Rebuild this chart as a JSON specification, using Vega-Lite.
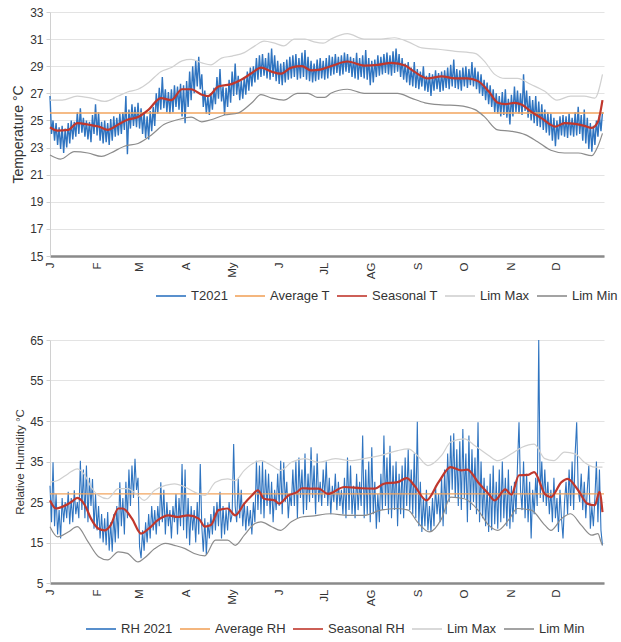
{
"$schema":"https://vega.github.io/schema/vega-lite/v6.json",
"padding":{"left":11,"top":6,"right":0,"bottom":0},
"bounds":"flush",
"spacing":84,
"config":{"font":"Liberation Sans","view":{"stroke":null},
"axisX":{"domainColor":"#8a8a8a","domainWidth":2.5,"ticks":false,"labelAngle":-90,"labelFontSize":11.5,"labelColor":"#333","grid":false,"labelPadding":6},
"axisY":{"domainColor":"#d0d0d0","gridColor":"#e3e3e3","tickColor":"#d0d0d0","tickSize":4,"labelPadding":3,"labelFontSize":12,"labelColor":"#333","titleFontWeight":"normal","titleColor":"#333","titlePadding":4},
"legend":{"direction":"horizontal","symbolType":"stroke","symbolSize":900,"symbolStrokeWidth":1.6,"labelFontSize":13,"labelColor":"#333","columnPadding":3,"gridAlign":"none","labelOffset":4,"padding":0}},
"resolve":{"scale":{"color":"independent","x":"independent","y":"independent"},"legend":{"color":"independent"}},
"datasets":{
"tBlue":[{"d":0,"v":26.8},{"d":1,"v":24.0},{"d":2,"v":25.0},{"d":3,"v":23.5},{"d":4,"v":24.8},{"d":5,"v":23.2},{"d":6,"v":24.5},{"d":7,"v":22.9},{"d":8,"v":24.6},{"d":9,"v":22.6},
{"d":10,"v":24.4},{"d":11,"v":23.0},{"d":12,"v":24.8},{"d":13,"v":23.3},{"d":14,"v":25.0},{"d":15,"v":23.6},{"d":16,"v":24.9},{"d":17,"v":23.8},{"d":18,"v":25.6},{"d":19,"v":24.0},
{"d":20,"v":25.9},{"d":21,"v":24.1},{"d":22,"v":25.2},{"d":23,"v":23.8},{"d":24,"v":25.0},{"d":25,"v":23.6},{"d":26,"v":24.9},{"d":27,"v":23.4},{"d":28,"v":25.4},{"d":29,"v":24.0},
{"d":30,"v":26.2},{"d":31,"v":23.9},{"d":32,"v":25.6},{"d":33,"v":23.5},{"d":34,"v":24.9},{"d":35,"v":23.3},{"d":36,"v":25.0},{"d":37,"v":23.4},{"d":38,"v":24.8},{"d":39,"v":23.2},
{"d":40,"v":25.1},{"d":41,"v":23.5},{"d":42,"v":25.3},{"d":43,"v":23.8},{"d":44,"v":25.2},{"d":45,"v":23.9},{"d":46,"v":25.5},{"d":47,"v":24.0},{"d":48,"v":25.6},{"d":49,"v":24.3},
{"d":50,"v":26.8},{"d":51,"v":22.5},{"d":52,"v":25.8},{"d":53,"v":24.4},{"d":54,"v":26.2},{"d":55,"v":24.6},{"d":56,"v":26.0},{"d":57,"v":24.5},{"d":58,"v":26.3},{"d":59,"v":24.4},
{"d":60,"v":25.9},{"d":61,"v":24.0},{"d":62,"v":25.6},{"d":63,"v":23.7},{"d":64,"v":25.3},{"d":65,"v":23.6},{"d":66,"v":25.7},{"d":67,"v":24.2},{"d":68,"v":26.0},{"d":69,"v":24.6},
{"d":70,"v":27.0},{"d":71,"v":25.5},{"d":72,"v":27.4},{"d":73,"v":25.8},{"d":74,"v":28.2},{"d":75,"v":25.9},{"d":76,"v":27.3},{"d":77,"v":25.6},{"d":78,"v":27.1},{"d":79,"v":25.5},
{"d":80,"v":27.3},{"d":81,"v":25.6},{"d":82,"v":27.6},{"d":83,"v":26.0},{"d":84,"v":27.5},{"d":85,"v":25.8},{"d":86,"v":27.7},{"d":87,"v":25.3},{"d":88,"v":27.6},{"d":89,"v":24.8},
{"d":90,"v":27.9},{"d":91,"v":26.0},{"d":92,"v":28.6},{"d":93,"v":26.5},{"d":94,"v":29.0},{"d":95,"v":27.0},{"d":96,"v":29.4},{"d":97,"v":27.5},{"d":98,"v":29.7},{"d":99,"v":27.3},
{"d":100,"v":28.4},{"d":101,"v":26.0},{"d":102,"v":27.2},{"d":103,"v":25.5},{"d":104,"v":26.8},{"d":105,"v":25.4},{"d":106,"v":27.0},{"d":107,"v":25.8},{"d":108,"v":27.4},{"d":109,"v":26.2},
{"d":110,"v":28.2},{"d":111,"v":26.6},{"d":112,"v":28.8},{"d":113,"v":26.4},{"d":114,"v":27.5},{"d":115,"v":25.4},{"d":116,"v":27.4},{"d":117,"v":26.0},{"d":118,"v":28.0},{"d":119,"v":26.3},
{"d":120,"v":28.6},{"d":121,"v":26.8},{"d":122,"v":29.2},{"d":123,"v":26.9},{"d":124,"v":28.3},{"d":125,"v":26.5},{"d":126,"v":27.9},{"d":127,"v":26.6},{"d":128,"v":28.2},{"d":129,"v":26.9},
{"d":130,"v":28.6},{"d":131,"v":27.2},{"d":132,"v":28.9},{"d":133,"v":27.5},{"d":134,"v":29.0},{"d":135,"v":27.8},{"d":136,"v":29.6},{"d":137,"v":28.0},{"d":138,"v":29.8},{"d":139,"v":28.2},
{"d":140,"v":29.9},{"d":141,"v":28.3},{"d":142,"v":29.6},{"d":143,"v":28.1},{"d":144,"v":30.0},{"d":145,"v":28.0},{"d":146,"v":30.3},{"d":147,"v":28.2},{"d":148,"v":29.8},{"d":149,"v":27.9},
{"d":150,"v":29.4},{"d":151,"v":27.7},{"d":152,"v":29.2},{"d":153,"v":27.6},{"d":154,"v":29.3},{"d":155,"v":27.8},{"d":156,"v":29.5},{"d":157,"v":28.0},{"d":158,"v":29.7},{"d":159,"v":28.1},
{"d":160,"v":29.8},{"d":161,"v":28.2},{"d":162,"v":29.9},{"d":163,"v":28.0},{"d":164,"v":29.6},{"d":165,"v":28.1},{"d":166,"v":30.0},{"d":167,"v":28.2},{"d":168,"v":30.2},{"d":169,"v":28.0},
{"d":170,"v":29.7},{"d":171,"v":27.9},{"d":172,"v":29.4},{"d":173,"v":27.8},{"d":174,"v":29.2},{"d":175,"v":27.9},{"d":176,"v":29.5},{"d":177,"v":28.0},{"d":178,"v":29.6},{"d":179,"v":28.1},
{"d":180,"v":29.4},{"d":181,"v":28.0},{"d":182,"v":29.6},{"d":183,"v":28.1},{"d":184,"v":29.8},{"d":185,"v":28.3},{"d":186,"v":29.7},{"d":187,"v":28.4},{"d":188,"v":29.9},{"d":189,"v":28.5},
{"d":190,"v":29.7},{"d":191,"v":28.3},{"d":192,"v":29.8},{"d":193,"v":28.4},{"d":194,"v":30.0},{"d":195,"v":28.6},{"d":196,"v":29.9},{"d":197,"v":28.5},{"d":198,"v":29.7},{"d":199,"v":28.2},
{"d":200,"v":29.6},{"d":201,"v":28.1},{"d":202,"v":30.0},{"d":203,"v":28.0},{"d":204,"v":29.6},{"d":205,"v":28.2},{"d":206,"v":29.8},{"d":207,"v":28.1},{"d":208,"v":30.2},{"d":209,"v":28.0},
{"d":210,"v":29.6},{"d":211,"v":27.6},{"d":212,"v":29.4},{"d":213,"v":27.8},{"d":214,"v":29.5},{"d":215,"v":28.2},{"d":216,"v":29.8},{"d":217,"v":28.3},{"d":218,"v":29.7},{"d":219,"v":28.4},
{"d":220,"v":29.9},{"d":221,"v":28.5},{"d":222,"v":30.0},{"d":223,"v":28.4},{"d":224,"v":29.8},{"d":225,"v":28.3},{"d":226,"v":30.1},{"d":227,"v":28.5},{"d":228,"v":30.3},{"d":229,"v":28.6},
{"d":230,"v":29.9},{"d":231,"v":28.2},{"d":232,"v":29.6},{"d":233,"v":28.0},{"d":234,"v":29.2},{"d":235,"v":27.8},{"d":236,"v":29.3},{"d":237,"v":27.6},{"d":238,"v":28.9},{"d":239,"v":27.5},
{"d":240,"v":29.3},{"d":241,"v":27.4},{"d":242,"v":28.8},{"d":243,"v":27.3},{"d":244,"v":28.6},{"d":245,"v":27.5},{"d":246,"v":29.0},{"d":247,"v":27.2},{"d":248,"v":28.3},{"d":249,"v":27.1},
{"d":250,"v":28.5},{"d":251,"v":26.8},{"d":252,"v":28.4},{"d":253,"v":27.2},{"d":254,"v":28.7},{"d":255,"v":27.3},{"d":256,"v":28.5},{"d":257,"v":27.1},{"d":258,"v":28.6},{"d":259,"v":27.2},
{"d":260,"v":28.7},{"d":261,"v":27.4},{"d":262,"v":28.9},{"d":263,"v":27.3},{"d":264,"v":29.1},{"d":265,"v":27.5},{"d":266,"v":29.5},{"d":267,"v":27.4},{"d":268,"v":28.8},{"d":269,"v":27.3},
{"d":270,"v":28.7},{"d":271,"v":27.2},{"d":272,"v":28.9},{"d":273,"v":27.5},{"d":274,"v":29.0},{"d":275,"v":27.4},{"d":276,"v":28.8},{"d":277,"v":27.6},{"d":278,"v":29.3},{"d":279,"v":27.5},
{"d":280,"v":28.9},{"d":281,"v":27.3},{"d":282,"v":28.6},{"d":283,"v":27.0},{"d":284,"v":28.4},{"d":285,"v":26.8},{"d":286,"v":28.0},{"d":287,"v":26.5},{"d":288,"v":27.8},{"d":289,"v":26.2},
{"d":290,"v":27.6},{"d":291,"v":26.0},{"d":292,"v":27.3},{"d":293,"v":25.6},{"d":294,"v":27.0},{"d":295,"v":25.5},{"d":296,"v":26.8},{"d":297,"v":25.3},{"d":298,"v":27.1},{"d":299,"v":25.4},
{"d":300,"v":27.3},{"d":301,"v":25.2},{"d":302,"v":26.6},{"d":303,"v":24.7},{"d":304,"v":26.9},{"d":305,"v":25.3},{"d":306,"v":27.5},{"d":307,"v":25.6},{"d":308,"v":27.2},{"d":309,"v":25.5},
{"d":310,"v":27.0},{"d":311,"v":25.4},{"d":312,"v":28.4},{"d":313,"v":25.7},{"d":314,"v":27.2},{"d":315,"v":25.2},{"d":316,"v":26.8},{"d":317,"v":25.0},{"d":318,"v":26.5},{"d":319,"v":24.8},
{"d":320,"v":26.8},{"d":321,"v":24.6},{"d":322,"v":26.4},{"d":323,"v":24.5},{"d":324,"v":26.2},{"d":325,"v":24.3},{"d":326,"v":25.8},{"d":327,"v":24.1},{"d":328,"v":25.6},{"d":329,"v":23.9},
{"d":330,"v":25.5},{"d":331,"v":23.5},{"d":332,"v":25.2},{"d":333,"v":23.1},{"d":334,"v":25.0},{"d":335,"v":23.6},{"d":336,"v":25.3},{"d":337,"v":23.9},{"d":338,"v":25.4},{"d":339,"v":23.8},
{"d":340,"v":25.3},{"d":341,"v":23.7},{"d":342,"v":25.5},{"d":343,"v":23.9},{"d":344,"v":25.2},{"d":345,"v":23.8},{"d":346,"v":25.6},{"d":347,"v":23.9},{"d":348,"v":26.0},{"d":349,"v":24.0},
{"d":350,"v":25.4},{"d":351,"v":23.5},{"d":352,"v":25.8},{"d":353,"v":23.3},{"d":354,"v":25.2},{"d":355,"v":22.9},{"d":356,"v":24.8},{"d":357,"v":22.7},{"d":358,"v":24.6},{"d":359,"v":23.2},
{"d":360,"v":25.0},{"d":361,"v":23.8},{"d":362,"v":25.4},{"d":363,"v":24.2},{"d":364,"v":25.6}],
"tSeas":[{"d":0,"v":24.5},{"d":5,"v":24.25},{"d":12,"v":24.3},{"d":18,"v":24.8},{"d":25,"v":24.7},{"d":32,"v":24.55},{"d":38,"v":24.3},{"d":45,"v":24.7},{"d":51,"v":25.05},{"d":58,"v":25.25},{"d":65,"v":25.8},{"d":73,"v":26.65},{"d":80,"v":26.5},{"d":87,"v":27.3},{"d":93,"v":27.3},{"d":100,"v":26.9},{"d":104,"v":26.8},{"d":111,"v":27.5},{"d":120,"v":27.7},{"d":126,"v":28.0},{"d":133,"v":28.5},{"d":139,"v":28.9},{"d":146,"v":28.6},{"d":152,"v":28.45},{"d":159,"v":28.9},{"d":166,"v":29.0},{"d":172,"v":28.7},{"d":178,"v":28.75},{"d":185,"v":29.0},{"d":196,"v":29.35},{"d":207,"v":29.05},{"d":216,"v":29.1},{"d":225,"v":29.25},{"d":234,"v":29.05},{"d":240,"v":28.6},{"d":249,"v":28.1},{"d":258,"v":28.25},{"d":267,"v":28.1},{"d":275,"v":28.1},{"d":282,"v":27.9},{"d":289,"v":27.15},{"d":295,"v":26.3},{"d":300,"v":26.2},{"d":306,"v":26.3},{"d":311,"v":26.15},{"d":317,"v":25.65},{"d":324,"v":25.15},{"d":333,"v":24.55},{"d":339,"v":24.8},{"d":346,"v":24.75},{"d":352,"v":24.6},{"d":357,"v":24.45},{"d":361,"v":24.9},{"d":364,"v":26.5}],
"tMax":[{"d":0,"v":26.5},{"d":8,"v":26.5},{"d":18,"v":26.8},{"d":27,"v":26.65},{"d":36,"v":26.4},{"d":45,"v":26.8},{"d":51,"v":27.1},{"d":58,"v":27.3},{"d":65,"v":27.8},{"d":73,"v":28.6},{"d":80,"v":28.9},{"d":87,"v":29.4},{"d":93,"v":29.5},{"d":100,"v":29.25},{"d":106,"v":29.1},{"d":113,"v":29.6},{"d":120,"v":29.75},{"d":128,"v":30.0},{"d":135,"v":30.5},{"d":141,"v":30.85},{"d":148,"v":30.7},{"d":154,"v":30.5},{"d":161,"v":31.0},{"d":168,"v":31.0},{"d":174,"v":30.8},{"d":180,"v":30.7},{"d":185,"v":31.0},{"d":196,"v":31.4},{"d":207,"v":31.0},{"d":218,"v":31.0},{"d":227,"v":31.1},{"d":236,"v":30.8},{"d":245,"v":30.35},{"d":256,"v":30.25},{"d":267,"v":30.1},{"d":280,"v":29.95},{"d":286,"v":29.4},{"d":293,"v":28.4},{"d":300,"v":28.1},{"d":308,"v":28.1},{"d":317,"v":27.65},{"d":326,"v":27.15},{"d":334,"v":26.5},{"d":343,"v":26.8},{"d":352,"v":26.8},{"d":359,"v":26.65},{"d":364,"v":28.4}],
"tMin":[{"d":0,"v":22.45},{"d":7,"v":22.15},{"d":16,"v":22.7},{"d":25,"v":22.6},{"d":34,"v":22.35},{"d":40,"v":22.6},{"d":49,"v":23.1},{"d":58,"v":23.3},{"d":67,"v":23.95},{"d":75,"v":24.7},{"d":84,"v":25.05},{"d":93,"v":25.25},{"d":100,"v":24.9},{"d":106,"v":25.05},{"d":115,"v":25.4},{"d":124,"v":25.55},{"d":133,"v":26.3},{"d":139,"v":26.9},{"d":146,"v":26.65},{"d":154,"v":26.5},{"d":163,"v":27.0},{"d":170,"v":27.0},{"d":176,"v":26.7},{"d":181,"v":26.7},{"d":185,"v":27.0},{"d":196,"v":27.3},{"d":207,"v":27.0},{"d":220,"v":27.0},{"d":229,"v":27.0},{"d":238,"v":26.65},{"d":247,"v":26.3},{"d":258,"v":26.15},{"d":269,"v":26.1},{"d":280,"v":25.8},{"d":286,"v":25.3},{"d":295,"v":24.3},{"d":304,"v":24.2},{"d":313,"v":23.95},{"d":321,"v":23.45},{"d":330,"v":22.8},{"d":339,"v":22.6},{"d":348,"v":22.6},{"d":357,"v":22.4},{"d":361,"v":23.1},{"d":364,"v":24.05}],
"tAvg":[{"d":0,"v":25.55},{"d":365,"v":25.55}],
"rhBlue":[{"d":0,"v":29},{"d":1,"v":20},{"d":2,"v":34.8},{"d":3,"v":19},{"d":4,"v":27},{"d":5,"v":17},{"d":6,"v":23},{"d":7,"v":16},{"d":8,"v":26},{"d":9,"v":20},
{"d":10,"v":25},{"d":11,"v":21},{"d":12,"v":27.5},{"d":13,"v":19.5},{"d":14,"v":26},{"d":15,"v":20},{"d":16,"v":27.9},{"d":17,"v":22},{"d":18,"v":25},{"d":19,"v":21},
{"d":20,"v":35.2},{"d":21,"v":23},{"d":22,"v":33},{"d":23,"v":21},{"d":24,"v":34},{"d":25,"v":20},{"d":26,"v":31},{"d":27,"v":24},{"d":28,"v":30.7},{"d":29,"v":18.4},
{"d":30,"v":27},{"d":31,"v":18},{"d":32,"v":24},{"d":33,"v":16},{"d":34,"v":22},{"d":35,"v":15},{"d":36,"v":21},{"d":37,"v":14.3},{"d":38,"v":22.5},{"d":39,"v":13},
{"d":40,"v":20},{"d":41,"v":12.7},{"d":42,"v":22},{"d":43,"v":15},{"d":44,"v":24},{"d":45,"v":16},{"d":46,"v":29.9},{"d":47,"v":19},{"d":48,"v":26},{"d":49,"v":17},
{"d":50,"v":30},{"d":51,"v":21},{"d":52,"v":33},{"d":53,"v":24},{"d":54,"v":34},{"d":55,"v":26},{"d":56,"v":35.7},{"d":57,"v":28},{"d":58,"v":31},{"d":59,"v":14},
{"d":60,"v":11.1},{"d":61,"v":18},{"d":62,"v":13},{"d":63,"v":20},{"d":64,"v":15},{"d":65,"v":22},{"d":66,"v":16},{"d":67,"v":24},{"d":68,"v":18},{"d":69,"v":23},
{"d":70,"v":17},{"d":71,"v":24},{"d":72,"v":19},{"d":73,"v":29.9},{"d":74,"v":20},{"d":75,"v":28},{"d":76,"v":17},{"d":77,"v":25},{"d":78,"v":19},{"d":79,"v":23},
{"d":80,"v":16},{"d":81,"v":24},{"d":82,"v":20},{"d":83,"v":27},{"d":84,"v":17},{"d":85,"v":26},{"d":86,"v":19},{"d":87,"v":34.4},{"d":88,"v":18},{"d":89,"v":33},
{"d":90,"v":16},{"d":91,"v":26},{"d":92,"v":14.3},{"d":93,"v":24},{"d":94,"v":18},{"d":95,"v":23},{"d":96,"v":15},{"d":97,"v":25},{"d":98,"v":17},{"d":99,"v":34.4},
{"d":100,"v":19},{"d":101,"v":12.7},{"d":102,"v":21},{"d":103,"v":11.9},{"d":104,"v":20},{"d":105,"v":16},{"d":106,"v":22},{"d":107,"v":17},{"d":108,"v":24},{"d":109,"v":18},
{"d":110,"v":25},{"d":111,"v":19},{"d":112,"v":27.5},{"d":113,"v":16},{"d":114,"v":24},{"d":115,"v":17},{"d":116,"v":23},{"d":117,"v":18},{"d":118,"v":25},{"d":119,"v":20},
{"d":120,"v":22},{"d":121,"v":39.3},{"d":122,"v":24},{"d":123,"v":20},{"d":124,"v":30.7},{"d":125,"v":21},{"d":126,"v":28},{"d":127,"v":19},{"d":128,"v":25},{"d":129,"v":18},
{"d":130,"v":24},{"d":131,"v":19},{"d":132,"v":23},{"d":133,"v":17},{"d":134,"v":25},{"d":135,"v":20},{"d":136,"v":35.2},{"d":137,"v":23},{"d":138,"v":34},{"d":139,"v":22},
{"d":140,"v":35},{"d":141,"v":21},{"d":142,"v":33},{"d":143,"v":24},{"d":144,"v":32},{"d":145,"v":22},{"d":146,"v":30},{"d":147,"v":20},{"d":148,"v":28},{"d":149,"v":23},
{"d":150,"v":32},{"d":151,"v":24},{"d":152,"v":35.2},{"d":153,"v":22},{"d":154,"v":34.8},{"d":155,"v":25},{"d":156,"v":30},{"d":157,"v":21},{"d":158,"v":27},{"d":159,"v":24},
{"d":160,"v":33},{"d":161,"v":24},{"d":162,"v":35},{"d":163,"v":21},{"d":164,"v":36},{"d":165,"v":26},{"d":166,"v":33},{"d":167,"v":22},{"d":168,"v":37},{"d":169,"v":23},
{"d":170,"v":32},{"d":171,"v":25},{"d":172,"v":38.5},{"d":173,"v":26},{"d":174,"v":34},{"d":175,"v":22},{"d":176,"v":37},{"d":177,"v":25},{"d":178,"v":30},{"d":179,"v":24},
{"d":180,"v":33},{"d":181,"v":26},{"d":182,"v":35},{"d":183,"v":24},{"d":184,"v":31},{"d":185,"v":22},{"d":186,"v":29},{"d":187,"v":25},{"d":188,"v":32},{"d":189,"v":23},
{"d":190,"v":30},{"d":191,"v":24},{"d":192,"v":28},{"d":193,"v":22},{"d":194,"v":31},{"d":195,"v":21},{"d":196,"v":36},{"d":197,"v":23},{"d":198,"v":34},{"d":199,"v":22},
{"d":200,"v":29},{"d":201,"v":21},{"d":202,"v":32},{"d":203,"v":23},{"d":204,"v":30},{"d":205,"v":24},{"d":206,"v":41.4},{"d":207,"v":21},{"d":208,"v":33},{"d":209,"v":22},
{"d":210,"v":35},{"d":211,"v":20},{"d":212,"v":38.5},{"d":213,"v":22},{"d":214,"v":30},{"d":215,"v":18.4},{"d":216,"v":27},{"d":217,"v":20},{"d":218,"v":32},{"d":219,"v":23},
{"d":220,"v":41.4},{"d":221,"v":24},{"d":222,"v":36},{"d":223,"v":22},{"d":224,"v":38.9},{"d":225,"v":21},{"d":226,"v":34},{"d":227,"v":23},{"d":228,"v":35},{"d":229,"v":19},
{"d":230,"v":32},{"d":231,"v":22},{"d":232,"v":34},{"d":233,"v":21},{"d":234,"v":36},{"d":235,"v":24},{"d":236,"v":38},{"d":237,"v":23},{"d":238,"v":33},{"d":239,"v":22},
{"d":240,"v":37},{"d":241,"v":21},{"d":242,"v":44.8},{"d":243,"v":19},{"d":244,"v":30},{"d":245,"v":17.6},{"d":246,"v":26},{"d":247,"v":19},{"d":248,"v":28},{"d":249,"v":18},
{"d":250,"v":24},{"d":251,"v":17.6},{"d":252,"v":26},{"d":253,"v":19},{"d":254,"v":29},{"d":255,"v":22},{"d":256,"v":27},{"d":257,"v":20},{"d":258,"v":31},{"d":259,"v":19},
{"d":260,"v":33},{"d":261,"v":22},{"d":262,"v":37},{"d":263,"v":25},{"d":264,"v":41.4},{"d":265,"v":28},{"d":266,"v":42},{"d":267,"v":26},{"d":268,"v":38},{"d":269,"v":24},
{"d":270,"v":40},{"d":271,"v":23},{"d":272,"v":43},{"d":273,"v":26},{"d":274,"v":37},{"d":275,"v":20},{"d":276,"v":41.4},{"d":277,"v":23},{"d":278,"v":38},{"d":279,"v":25},
{"d":280,"v":36},{"d":281,"v":22},{"d":282,"v":44.7},{"d":283,"v":20},{"d":284,"v":35},{"d":285,"v":21},{"d":286,"v":31},{"d":287,"v":19},{"d":288,"v":29},{"d":289,"v":17.6},
{"d":290,"v":32},{"d":291,"v":18},{"d":292,"v":34},{"d":293,"v":19.5},{"d":294,"v":30},{"d":295,"v":18.4},{"d":296,"v":33},{"d":297,"v":20},{"d":298,"v":35},{"d":299,"v":21},
{"d":300,"v":31},{"d":301,"v":19},{"d":302,"v":33},{"d":303,"v":18.4},{"d":304,"v":29},{"d":305,"v":20},{"d":306,"v":30},{"d":307,"v":22},{"d":308,"v":34},{"d":309,"v":44.7},
{"d":310,"v":28},{"d":311,"v":23},{"d":312,"v":35},{"d":313,"v":21},{"d":314,"v":32},{"d":315,"v":20},{"d":316,"v":30},{"d":317,"v":16},{"d":318,"v":28},{"d":319,"v":22},
{"d":320,"v":31},{"d":321,"v":24},{"d":322,"v":65},{"d":323,"v":26},{"d":324,"v":35},{"d":325,"v":25},{"d":326,"v":33},{"d":327,"v":24},{"d":328,"v":30},{"d":329,"v":22},
{"d":330,"v":28},{"d":331,"v":20},{"d":332,"v":31},{"d":333,"v":21},{"d":334,"v":26},{"d":335,"v":17.6},{"d":336,"v":28},{"d":337,"v":21},{"d":338,"v":16},{"d":339,"v":25},
{"d":340,"v":30},{"d":341,"v":22},{"d":342,"v":33},{"d":343,"v":24},{"d":344,"v":35},{"d":345,"v":23},{"d":346,"v":37},{"d":347,"v":44.7},{"d":348,"v":28},{"d":349,"v":25},
{"d":350,"v":32},{"d":351,"v":23},{"d":352,"v":30},{"d":353,"v":21},{"d":354,"v":28},{"d":355,"v":34},{"d":356,"v":18.4},{"d":357,"v":24},{"d":358,"v":19},{"d":359,"v":26},
{"d":360,"v":35},{"d":361,"v":20},{"d":362,"v":33},{"d":363,"v":18},{"d":364,"v":14.3}],
"rhSeas":[{"d":0,"v":25.4},{"d":4,"v":23.4},{"d":8,"v":23.8},{"d":14,"v":25},{"d":18,"v":26},{"d":23,"v":24.2},{"d":27,"v":20.9},{"d":32,"v":18.4},{"d":36,"v":18.0},{"d":40,"v":19.3},{"d":45,"v":23.4},{"d":48,"v":23.4},{"d":54,"v":20.9},{"d":60,"v":17.2},{"d":65,"v":18.4},{"d":71,"v":20.5},{"d":78,"v":21.7},{"d":84,"v":21.3},{"d":91,"v":21.7},{"d":98,"v":20.9},{"d":102,"v":18.9},{"d":106,"v":19.3},{"d":111,"v":23.0},{"d":117,"v":23.4},{"d":122,"v":21.7},{"d":128,"v":24.6},{"d":133,"v":26.6},{"d":137,"v":27.9},{"d":141,"v":25.8},{"d":148,"v":25.4},{"d":151,"v":24.6},{"d":157,"v":26.6},{"d":163,"v":27.5},{"d":166,"v":28.4},{"d":172,"v":28.3},{"d":177,"v":28.3},{"d":183,"v":27.0},{"d":194,"v":28.7},{"d":205,"v":28.4},{"d":214,"v":28.3},{"d":220,"v":29.5},{"d":229,"v":29.9},{"d":235,"v":30.9},{"d":240,"v":29.1},{"d":248,"v":25.4},{"d":256,"v":29.9},{"d":264,"v":33.6},{"d":271,"v":32.8},{"d":275,"v":33.0},{"d":282,"v":29.9},{"d":289,"v":27.0},{"d":293,"v":25.4},{"d":300,"v":28.1},{"d":304,"v":26.8},{"d":309,"v":31.6},{"d":315,"v":31.7},{"d":319,"v":32.4},{"d":326,"v":27.0},{"d":330,"v":26.2},{"d":337,"v":29.9},{"d":341,"v":30.7},{"d":348,"v":27.9},{"d":354,"v":24.6},{"d":359,"v":24.2},{"d":362,"v":27.5},{"d":364,"v":22.5}],
"rhMax":[{"d":0,"v":29.9},{"d":5,"v":30.3},{"d":12,"v":32},{"d":18,"v":33.2},{"d":23,"v":31.6},{"d":27,"v":28.7},{"d":32,"v":26.6},{"d":38,"v":25.8},{"d":45,"v":28.3},{"d":51,"v":28.3},{"d":58,"v":26.6},{"d":62,"v":25.4},{"d":69,"v":27.9},{"d":76,"v":29.1},{"d":82,"v":29.5},{"d":89,"v":28.7},{"d":95,"v":27.5},{"d":102,"v":26.6},{"d":109,"v":29.9},{"d":117,"v":30.7},{"d":122,"v":30.3},{"d":128,"v":32.8},{"d":135,"v":34.8},{"d":139,"v":35.2},{"d":146,"v":34.0},{"d":152,"v":32.8},{"d":159,"v":34.8},{"d":168,"v":35.7},{"d":177,"v":34.8},{"d":188,"v":35.7},{"d":198,"v":35.2},{"d":207,"v":35.7},{"d":218,"v":36.5},{"d":229,"v":37.7},{"d":236,"v":38.1},{"d":242,"v":36.5},{"d":249,"v":34.0},{"d":258,"v":36.5},{"d":264,"v":39.8},{"d":273,"v":40.6},{"d":280,"v":38.9},{"d":289,"v":36.5},{"d":295,"v":35.2},{"d":304,"v":36.9},{"d":311,"v":38.5},{"d":319,"v":39.3},{"d":326,"v":35.7},{"d":332,"v":35.2},{"d":339,"v":37.3},{"d":346,"v":36.9},{"d":352,"v":34.8},{"d":359,"v":33.6},{"d":364,"v":33.6}],
"rhMin":[{"d":0,"v":18.9},{"d":5,"v":16.4},{"d":12,"v":17.6},{"d":18,"v":18.9},{"d":25,"v":15.2},{"d":32,"v":11.5},{"d":38,"v":10.7},{"d":45,"v":12.7},{"d":51,"v":12.3},{"d":58,"v":10.2},{"d":62,"v":11.1},{"d":69,"v":13.5},{"d":76,"v":14.8},{"d":82,"v":14.3},{"d":89,"v":13.5},{"d":95,"v":12.3},{"d":102,"v":11.7},{"d":109,"v":15.6},{"d":117,"v":15.6},{"d":122,"v":14.3},{"d":128,"v":16.8},{"d":135,"v":19.7},{"d":139,"v":20.1},{"d":146,"v":18.9},{"d":152,"v":18.0},{"d":159,"v":20.1},{"d":166,"v":21.3},{"d":172,"v":21.5},{"d":185,"v":22.1},{"d":196,"v":21.7},{"d":207,"v":21.7},{"d":218,"v":23.0},{"d":229,"v":23.4},{"d":236,"v":23.0},{"d":242,"v":20.1},{"d":250,"v":17.6},{"d":258,"v":20.9},{"d":264,"v":26.2},{"d":273,"v":25.8},{"d":282,"v":23.0},{"d":289,"v":19.3},{"d":295,"v":18.0},{"d":302,"v":20.5},{"d":308,"v":23.4},{"d":317,"v":23.0},{"d":326,"v":19.3},{"d":330,"v":18.0},{"d":337,"v":20.9},{"d":343,"v":22.1},{"d":350,"v":19.3},{"d":357,"v":16.8},{"d":361,"v":17.2},{"d":363,"v":15.2},{"d":364,"v":14.3}],
"rhAvg":[{"d":0,"v":27.0},{"d":365,"v":27.0}]
},
"vconcat":[
{"width":554,"height":244,
"encoding":{
"x":{"field":"d","type":"quantitative","scale":{"domain":[0,365],"nice":false,"zero":false},"axis":{"values":[0,31,59,90,120,151,181,212,243,273,304,334],"labelExpr":"['J','F','M','A','My','J','JL','AG','S','O','N','D'][indexof([0,31,59,90,120,151,181,212,243,273,304,334], datum.value)]","title":null}},
"y":{"field":"v","type":"quantitative","scale":{"domain":[15,33],"nice":false,"zero":false},"axis":{"values":[15,17,19,21,23,25,27,29,31,33],"title":"Temperature °C","titleFontSize":14}}},
"layer":[
{"data":{"name":"tBlue"},"mark":{"type":"line","strokeWidth":1.4},"encoding":{"color":{"datum":"T2021","type":"nominal","scale":{"domain":["T2021","Average T","Seasonal T","Lim Max","Lim Min"],"range":["#2f74c0","#f2a45e","#c0372c","#d0d0d0","#8c8c8c"]},"legend":{"title":null,"orient":"none","legendX":105,"legendY":268}}}},
{"data":{"name":"tAvg"},"mark":{"type":"line","strokeWidth":1.3},"encoding":{"color":{"datum":"Average T","type":"nominal"}}},
{"data":{"name":"tSeas"},"mark":{"type":"line","strokeWidth":2.2,"interpolate":"monotone"},"encoding":{"color":{"datum":"Seasonal T","type":"nominal"}}},
{"data":{"name":"tMax"},"mark":{"type":"line","strokeWidth":1.2,"interpolate":"monotone"},"encoding":{"color":{"datum":"Lim Max","type":"nominal"}}},
{"data":{"name":"tMin"},"mark":{"type":"line","strokeWidth":1.2,"interpolate":"monotone"},"encoding":{"color":{"datum":"Lim Min","type":"nominal"}}}
]},
{"width":554,"height":243,
"encoding":{
"x":{"field":"d","type":"quantitative","scale":{"domain":[0,365],"nice":false,"zero":false},"axis":{"values":[0,31,59,90,120,151,181,212,243,273,304,334],"labelExpr":"['J','F','M','A','My','J','JL','AG','S','O','N','D'][indexof([0,31,59,90,120,151,181,212,243,273,304,334], datum.value)]","title":null}},
"y":{"field":"v","type":"quantitative","scale":{"domain":[5,65],"nice":false,"zero":false},"axis":{"values":[5,15,25,35,45,55,65],"title":"Relative Humidity °C","titleFontSize":11.5}}},
"layer":[
{"data":{"name":"rhBlue"},"mark":{"type":"line","strokeWidth":1.1},"encoding":{"color":{"datum":"RH 2021","type":"nominal","scale":{"domain":["RH 2021","Average RH","Seasonal RH","Lim Max","Lim Min"],"range":["#2f74c0","#f2a45e","#c0372c","#d0d0d0","#8c8c8c"]},"legend":{"title":null,"orient":"none","legendX":35,"legendY":273}}}},
{"data":{"name":"rhAvg"},"mark":{"type":"line","strokeWidth":1.3},"encoding":{"color":{"datum":"Average RH","type":"nominal"}}},
{"data":{"name":"rhSeas"},"mark":{"type":"line","strokeWidth":2.2,"interpolate":"monotone"},"encoding":{"color":{"datum":"Seasonal RH","type":"nominal"}}},
{"data":{"name":"rhMax"},"mark":{"type":"line","strokeWidth":1.2,"interpolate":"monotone"},"encoding":{"color":{"datum":"Lim Max","type":"nominal"}}},
{"data":{"name":"rhMin"},"mark":{"type":"line","strokeWidth":1.2,"interpolate":"monotone"},"encoding":{"color":{"datum":"Lim Min","type":"nominal"}}}
]}
]
}
